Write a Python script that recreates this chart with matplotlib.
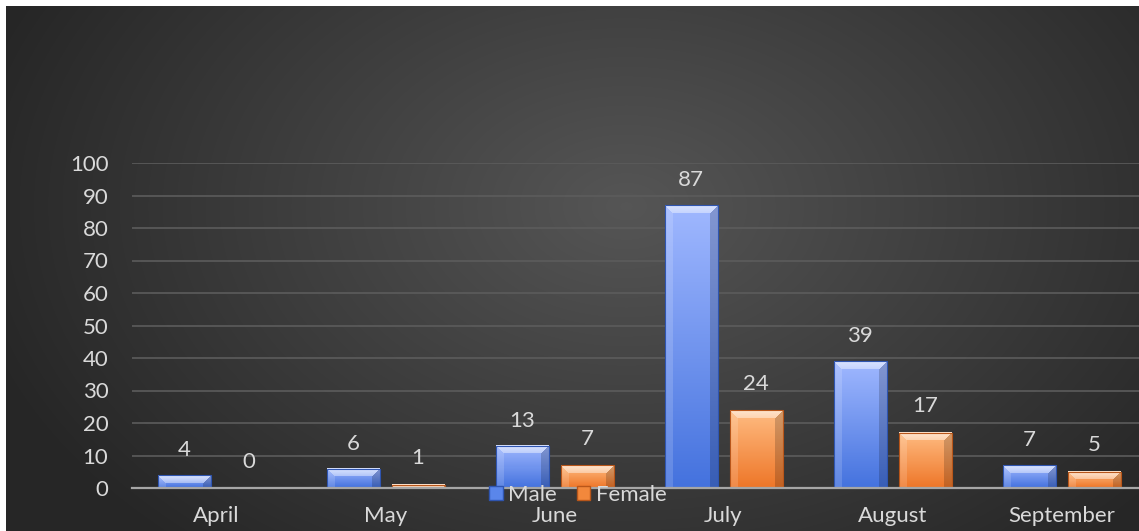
import numpy as np
import matplotlib
matplotlib.use("Agg")
import matplotlib.pyplot as plt
from matplotlib.patches import Patch
from matplotlib.colors import to_rgb

plt.rcParams['font.family'] = ['Lato', 'DejaVu Sans']

# data
months = ['April', 'May', 'June', 'July', 'August', 'September']
male = [4, 6, 13, 87, 39, 7]
female = [0, 1, 7, 24, 17, 5]

W, H = 1139, 531
fig = plt.figure(figsize=(W / 100, H / 100), dpi=100, facecolor='white')

# dark radial background, white border top/left
bg = fig.add_axes([6 / W, 0, 1 - 6 / W, 1 - 6 / H], zorder=-10)
yy, xx = np.mgrid[0:525, 0:1133]
d = np.sqrt(((xx - 620) / 620.0) ** 2 + ((yy - 200) / 420.0) ** 2)
lum = np.clip(0.335 - 0.17 * d, 0.15, 0.335)
bg.imshow(np.dstack([lum, lum, lum]), aspect='auto', interpolation='bilinear')
bg.axis('off')

ax = fig.add_axes([132 / W, (H - 488) / H, 6 * 169 / W, 325 / H])
ax.set_facecolor('none')
ax.set_xlim(-0.5, 5.5)
ax.set_ylim(0, 100)

PX_X = 169.0   # pixels per category
PX_Y = 3.25    # pixels per unit
bw = 53 / PX_X
off = 32.5 / PX_X


def bevel_bar(x0, val, top, bottom, edge):
    hp = int(round(val * PX_Y))
    wp = 53
    if hp < 1:
        return
    top = np.array(to_rgb(top))
    bottom = np.array(to_rgb(bottom))
    t = np.linspace(0, 1, hp)[:, None, None]
    img = top * (1 - t) + bottom * t
    img = np.repeat(img, wp, axis=1)
    b = 8
    r = np.arange(hp)[:, None] * np.ones((1, wp))
    c = np.ones((hp, 1)) * np.arange(wp)[None, :]
    topm = (r < b) & (c >= r) & (c < wp - r)
    leftm = (c < b) & (r >= c) & ~topm
    rightm = (c >= wp - b) & (r >= wp - 1 - c) & ~topm
    k = (0.6 - 0.2 * r / b)[topm][:, None]
    img[topm] = img[topm] * (1 - k) + k
    img[leftm] = img[leftm] * 0.85 + 0.15
    img[rightm] = img[rightm] * 0.82
    img = np.clip(img, 0, 1)
    ax.imshow(img, extent=(x0, x0 + bw, 0, val), aspect='auto',
              interpolation='nearest', zorder=3)
    ax.add_patch(plt.Rectangle((x0, 0), bw, val, fill=False,
                               edgecolor=edge, linewidth=0.8, zorder=4))


x = np.arange(len(months))
for i in range(len(months)):
    bevel_bar(x[i] - off - bw / 2, male[i], '#a0b8ff', '#4472de', '#2f55b0')
    bevel_bar(x[i] + off - bw / 2, female[i], '#ffbc82', '#ee7628', '#b8561a')
    ax.annotate(str(male[i]), (x[i] - off, male[i]), xytext=(0, 18),
                textcoords='offset points', ha='center', va='center',
                color='#d9d9d9', fontsize=16)
    ax.annotate(str(female[i]), (x[i] + off, female[i]), xytext=(0, 19),
                textcoords='offset points', ha='center', va='center',
                color='#d9d9d9', fontsize=16)

ax.set_yticks(range(0, 101, 10))
ax.grid(axis='y', color='#5c5c5c', linewidth=1.2, zorder=0)
ax.set_axisbelow(True)
ax.set_xticks(x)
ax.set_xticklabels(months)
ax.tick_params(axis='both', length=0, colors='#d9d9d9', labelsize=16)
ax.tick_params(axis='y', pad=17)
ax.tick_params(axis='x', pad=13)
for s in ['top', 'right', 'left']:
    ax.spines[s].set_visible(False)
ax.spines['bottom'].set_color('#a6a6a6')
ax.spines['bottom'].set_linewidth(1.6)
ax.spines['bottom'].set_zorder(5)

handles = [Patch(facecolor='#5a86ea', edgecolor='#2f55b0', label='Male'),
           Patch(facecolor='#f2883c', edgecolor='#b8561a', label='Female')]
leg = fig.legend(handles=handles, loc='center', bbox_to_anchor=(578 / W, 1 - 495 / H),
                 ncol=2, frameon=False, fontsize=16, handlelength=0.6,
                 handleheight=0.6, handletextpad=0.25, columnspacing=0.9,
                 labelcolor='#d9d9d9', borderpad=0)

fig.savefig('out.png', dpi=100, facecolor='white')
